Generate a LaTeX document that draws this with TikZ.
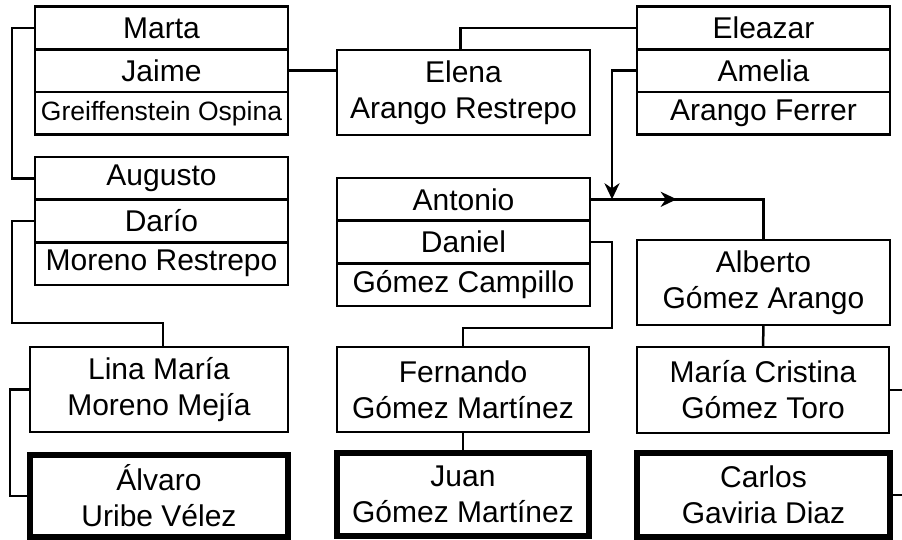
\documentclass[tikz,border=0pt]{standalone}
\usepackage{fontspec}
\setmainfont{Liberation Sans}
\usetikzlibrary{positioning,calc,arrows.meta}
\tikzset{
  row/.style={draw,line width=2.5pt,minimum width=253pt,minimum height=42.67pt,inner sep=0pt,outer sep=0pt},
  person/.style={draw,line width=2.5pt,minimum width=253pt,minimum height=85pt,inner sep=0pt,outer sep=0pt,align=center},
  me/.style={person,line width=5.5pt,minimum height=82pt},
  link/.style={line width=2.5pt}
}
\begin{document}
\begin{tikzpicture}[x=1pt,y=-1pt,>={Stealth[length=16pt,width=15pt,inset=5pt]},line join=miter,
  font=\fontsize{30}{36}\selectfont]
			\useasboundingbox (0,0) rectangle (902,539);
			% paternal grandparents
			\node[row] (marta) at (161.5,28) {Marta};
			\node[row] (jaime) [below=0pt of marta] {Jaime};
			\node[row,font=\fontsize{26.5}{32}\selectfont] (greif) [below=0pt of jaime] {Greiffenstein Ospina};
			\node[row] (augusto) at (161.5,178.3) {Augusto};
			\node[row] (dario) [below=0pt of augusto] {Darío};
			\node[row] (moreno) [below=0pt of dario] {Moreno Restrepo};
			% middle column
			\node[person] (elena) at (463.5,92.5) {Elena\\Arango Restrepo};
			\node[row] (antonio) at (463.5,199.3) {Antonio};
			\node[row] (daniel) [below=0pt of antonio] {Daniel};
			\node[row] (campillo) [below=0pt of daniel] {Gómez Campillo};
			% right column
			\node[row] (eleazar) at (763.5,28) {Eleazar};
			\node[row] (amelia) [below=0pt of eleazar] {Amelia};
			\node[row] (ferrer) [below=0pt of amelia] {Arango Ferrer};
			\node[person] (alberto) at (763.5,282.5) {Alberto\\Gómez Arango};
			% children
			\node[person,minimum width=258pt] (lina) at (159,389.5) {Lina María\\Moreno Mejía};
			\node[person,minimum width=252pt] (fernando) at (463,389.5) {Fernando\\Gómez Martínez};
			\node[person,minimum width=252pt,minimum height=86pt] (maria) at (763,390) {María Cristina\\Gómez Toro};
			\node[me,minimum width=258pt] (alvaro) at (159,496) {Álvaro\\Uribe Vélez};
			\node[me,minimum width=252pt,minimum height=83pt] (juan) at (463,494.5) {Juan\\Gómez Martínez};
			\node[me,minimum height=84pt] (carlos) at (763.5,495) {Carlos\\Gaviria Diaz};
			\coordinate (meet) at ($(antonio.east)+(22,0)$);
			% connectors
			\draw[link] (marta.west) -- ++(-23,0) |- (augusto.west);
			\draw[link] (dario.west) -- ++(-23,0) -- ++(0,102) -| ($(lina.north)+(4,0)$);
			\draw[link] (jaime.east) -- (jaime.east -| elena.west);
			\draw[link] ($(elena.north)+(-3,0)$) |- (eleazar.west);
			\draw[link,->] (amelia.west) -| (meet);
			\draw[link] (antonio.east) -| (alberto.north);
			\draw[link,->] (antonio.east) -- ($(antonio.east)!.5!(antonio.east -| alberto.north)$);
			\draw[link] (daniel.east) -- ++(22,0) -- ++(0,86) -| (fernando.north);
			\draw[link] (fernando.south) -- (juan.north);
			\draw[link] (alberto.south) -- (maria.north);
			\draw[link] (lina.west) -- ++(-20,0) |- (alvaro.west);
			\draw[link] (maria.east) -- ++(16,0);
			\draw[link] (carlos.east) -- ++(16,0);
\end{tikzpicture}
\end{document}
